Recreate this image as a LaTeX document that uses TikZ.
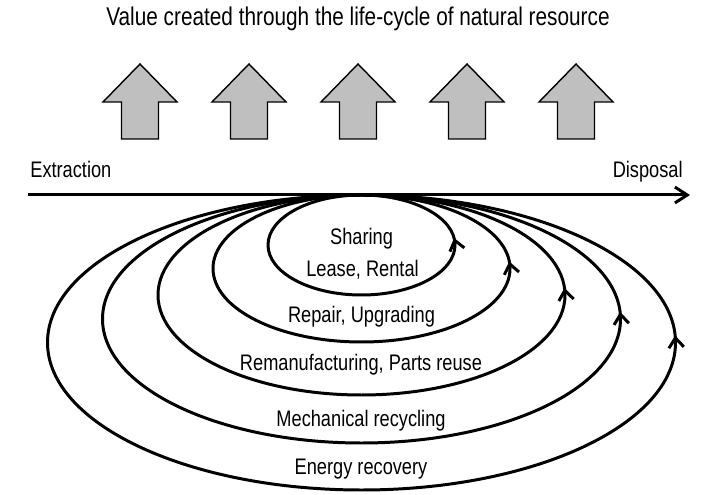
\documentclass[tikz,border=0pt]{standalone}
\usepackage{fontspec}
\setmainfont[FakeStretch=0.81]{Liberation Sans}
\usetikzlibrary{arrows.meta, decorations.markings}

\begin{document}
\begin{tikzpicture}[font=\fontsize{12.8}{15}\selectfont,cyclepath/.style={line width=1.7pt,postaction={decorate},decoration={markings,mark=at position 4pt with {\arrow{Straight Barb[length=5.5pt,width=8.5pt]}}}},uparrow/.style={draw=black,fill=gray!50,line width=0.8pt},axis/.style={line width=1.7pt,-{Straight Barb[length=7pt,width=9pt]}},lbl/.style={anchor=base,inner sep=0pt}]
\useasboundingbox (0,0) rectangle (14.04,9.88);
\node[lbl,font=\fontsize{14.6}{17}\selectfont] (title) at (7.16,9.36){Value created through the life-cycle of natural resource};
\foreach \x in {2.8,4.98,7.16,9.34,11.52} \draw[uparrow] (\x-0.37,7.1) -- (\x-0.37,7.84) -- (\x-0.74,7.84) -- (\x,8.6) -- (\x+0.74,7.84) -- (\x+0.37,7.84) -- (\x+0.37,7.1) -- cycle;
\node[lbl,anchor=base west] (ext) at (0.6,6.33){Extraction};
\node[lbl,anchor=base east] (disp) at (13.66,6.33){Disposal};
\coordinate (start) at (0.56,5.98); \coordinate (end) at (13.8,5.98);
\draw[axis] (start) -- (end);
% value retention loops, innermost first
\foreach \rx/\ry in {1.87/1.0,2.97/1.47,4.07/2.0,5.18/2.48,6.28/2.95} \draw[cyclepath] (7.23,5.98-\ry) ellipse[x radius=\rx,y radius=\ry];
\node[lbl] (share) at (7.23,4.98){Sharing};
\node[lbl] (lease) at (7.25,4.35){Lease, Rental};
\node[lbl] (repair) at (7.23,3.42){Repair, Upgrading};
\node[lbl] (reman) at (7.22,2.47){Remanufacturing, Parts reuse};
\node[lbl] (mech) at (7.22,1.34){Mechanical recycling};
\node[lbl] (energy) at (7.22,0.38){Energy recovery};
\end{tikzpicture}
\end{document}
